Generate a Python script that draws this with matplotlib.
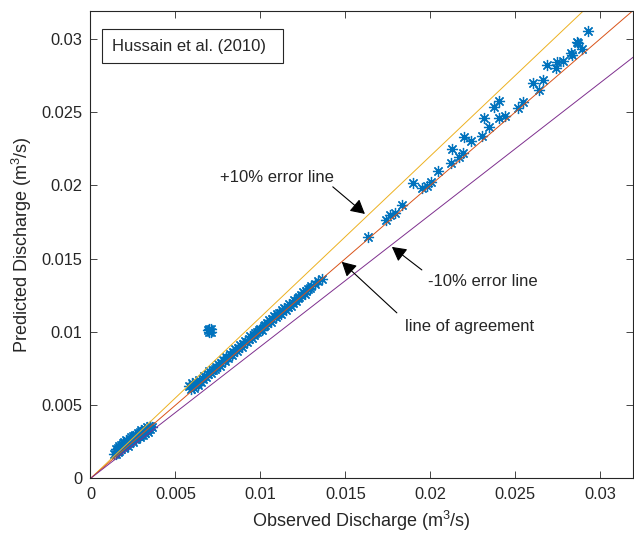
import matplotlib
matplotlib.use("Agg")
import matplotlib.pyplot as plt
from matplotlib.patches import Rectangle

plt.rcParams['font.family'] = ['Liberation Sans', 'DejaVu Sans']
plt.rcParams['mathtext.default'] = 'regular'

# low discharge cluster
low_x = [0.0014, 0.0015, 0.0015, 0.0016, 0.0016, 0.0017, 0.0017, 0.0018, 0.0018, 0.0019,
         0.0019, 0.0020, 0.0020, 0.0021, 0.0021, 0.0022, 0.0022, 0.0023, 0.0023, 0.0024,
         0.0024, 0.0025, 0.0025, 0.0026, 0.0026, 0.0027, 0.0027, 0.0028, 0.0028, 0.0029,
         0.0029, 0.0030, 0.0030, 0.0031, 0.0031, 0.0032, 0.0032, 0.0033, 0.0033, 0.0034,
         0.0034, 0.0035, 0.0035, 0.0036]
low_y = [0.0017, 0.0020, 0.0017, 0.0021, 0.0018, 0.0022, 0.0019, 0.0023, 0.0020, 0.0022,
         0.0024, 0.0021, 0.0025, 0.0023, 0.0026, 0.0024, 0.0022, 0.0027, 0.0025, 0.0026,
         0.0028, 0.0029, 0.0025, 0.0027, 0.0030, 0.0028, 0.0027, 0.0031, 0.0029, 0.0032,
         0.0028, 0.0030, 0.0033, 0.0032, 0.0030, 0.0034, 0.0031, 0.0033, 0.0035, 0.0034,
         0.0032, 0.0036, 0.0034, 0.0035]

# middle band
mid_x = [0.0058, 0.0059, 0.0060, 0.0061, 0.0062, 0.0063, 0.0064, 0.0065, 0.0066, 0.0067,
         0.0068, 0.0069, 0.0070, 0.0071, 0.0072, 0.0073, 0.0074, 0.0075, 0.0076, 0.0077,
         0.0078, 0.0079, 0.0080, 0.0081, 0.0082, 0.0083, 0.0084, 0.0085, 0.0086, 0.0087,
         0.0088, 0.0089, 0.0090, 0.0091, 0.0092, 0.0093, 0.0094, 0.0095, 0.0096, 0.0097,
         0.0098, 0.0099, 0.0100, 0.0101, 0.0102, 0.0103, 0.0104, 0.0105, 0.0106, 0.0107,
         0.0108, 0.0109, 0.0110, 0.0111, 0.0112, 0.0113, 0.0114, 0.0115, 0.0116, 0.0117,
         0.0118, 0.0119, 0.0120, 0.0121, 0.0122, 0.0123, 0.0124, 0.0125, 0.0126, 0.0127,
         0.0128, 0.0129, 0.0130, 0.0132, 0.0134, 0.0136]
mid_y = [0.0063, 0.0061, 0.0065, 0.0062, 0.0066, 0.0064, 0.0067, 0.0066, 0.0068, 0.0070,
         0.0069, 0.0071, 0.0073, 0.0072, 0.0074, 0.0075, 0.0076, 0.0078, 0.0077, 0.0079,
         0.0081, 0.0080, 0.0083, 0.0082, 0.0085, 0.0084, 0.0086, 0.0088, 0.0087, 0.0089,
         0.0091, 0.0090, 0.0092, 0.0094, 0.0093, 0.0095, 0.0097, 0.0096, 0.0098, 0.0099,
         0.0100, 0.0101, 0.0102, 0.0101, 0.0104, 0.0105, 0.0106, 0.0108, 0.0107, 0.0109,
         0.0111, 0.0110, 0.0112, 0.0113, 0.0112, 0.0115, 0.0116, 0.0115, 0.0117, 0.0119,
         0.0118, 0.0120, 0.0122, 0.0121, 0.0123, 0.0124, 0.0125, 0.0127, 0.0126, 0.0128,
         0.0129, 0.0130, 0.0131, 0.0133, 0.0135, 0.0136]

# outlier group
out_x = [0.0069, 0.0070, 0.0071, 0.0070, 0.0071]
out_y = [0.0101, 0.0102, 0.0100, 0.0100, 0.0102]

# high discharge points
high_x = [0.01632, 0.01738, 0.01762, 0.01791, 0.01832, 0.01897, 0.01950, 0.01979, 0.02003, 0.02044,
          0.02121, 0.02126, 0.02168, 0.02191, 0.02197, 0.02238, 0.02303, 0.02315, 0.02344, 0.02374,
          0.02403, 0.02403, 0.02438, 0.02515, 0.02544, 0.02603, 0.02638, 0.02662, 0.02685, 0.02744,
          0.02738, 0.02779, 0.02826, 0.02832, 0.02862, 0.02868, 0.02891, 0.02926]
high_y = [0.01648, 0.01765, 0.01799, 0.01812, 0.01867, 0.02017, 0.01983, 0.01997, 0.02024, 0.02099,
          0.02154, 0.02249, 0.02195, 0.02222, 0.02331, 0.02304, 0.02338, 0.02461, 0.02399, 0.02536,
          0.02577, 0.02461, 0.02474, 0.02529, 0.02570, 0.02700, 0.02652, 0.02720, 0.02823, 0.02843,
          0.02802, 0.02850, 0.02904, 0.02891, 0.02980, 0.02973, 0.02932, 0.03055]

obs = low_x + out_x + mid_x + high_x
pred = low_y + out_y + mid_y + high_y

ref_x = [0, 0.032]
ticks = [0, 0.005, 0.01, 0.015, 0.02, 0.025, 0.03]
tick_labels = ['0', '0.005', '0.01', '0.015', '0.02', '0.025', '0.03']

fig = plt.figure(figsize=(6.34, 5.37), dpi=100)
ax = fig.add_axes([0.1427, 0.109, 0.855, 0.8706])

ax.plot(obs, pred, linestyle='none', marker=(8, 2, 0), markersize=8,
        markeredgecolor='#0072BD', markeredgewidth=0.9, color='#0072BD')
ax.plot(ref_x, [v * 1.1 for v in ref_x], color='#EDB120', lw=0.7)
ax.plot(ref_x, ref_x, color='#D95319', lw=0.7)
ax.plot(ref_x, [v * 0.9 for v in ref_x], color='#7E2F8E', lw=0.7)

ax.set_xlim(0, 0.0319)
ax.set_ylim(0, 0.0319)
ax.set_xticks(ticks)
ax.set_xticklabels(tick_labels)
ax.set_yticks(ticks)
ax.set_yticklabels(tick_labels)
ax.tick_params(direction='in', top=True, right=True, length=5, width=0.6,
               labelsize=11.8, colors='#262626', pad=6)
for s in ax.spines.values():
    s.set_linewidth(0.8)
    s.set_color('#262626')

ax.set_xlabel('Observed Discharge (m$^3$/s)', fontsize=13, color='#262626', labelpad=5)
ax.set_ylabel('Predicted Discharge (m$^3$/s)', fontsize=13, color='#262626', labelpad=5)

ax.add_patch(Rectangle((0.022, 0.889), 0.334, 0.0727, transform=ax.transAxes,
                       facecolor='white', edgecolor='#262626', lw=0.8, zorder=5))
ax.text(0.0406, 0.925, 'Hussain et al. (2010)', transform=ax.transAxes,
        ha='left', va='center', fontsize=12, color='#262626', zorder=6)

arrow = dict(arrowstyle='-|>,head_length=0.43,head_width=0.235', color='k',
             lw=0.8, mutation_scale=20, shrinkA=0, shrinkB=0)
ax.annotate('', xy=(0.01615, 0.01805), xytext=(0.01426, 0.01990), arrowprops=arrow)
ax.annotate('', xy=(0.01774, 0.01580), xytext=(0.01950, 0.01423), arrowprops=arrow)
ax.annotate('', xy=(0.01479, 0.01478), xytext=(0.01803, 0.01130), arrowprops=arrow)

ax.text(0.00763, 0.02051, '+10% error line', ha='left', va='center', fontsize=12, color='#262626')
ax.text(0.01985, 0.01341, '-10% error line', ha='left', va='center', fontsize=12, color='#262626')
ax.text(0.0185, 0.01034, 'line of agreement', ha='left', va='center', fontsize=12, color='#262626')

fig.savefig('out.png', dpi=100)
